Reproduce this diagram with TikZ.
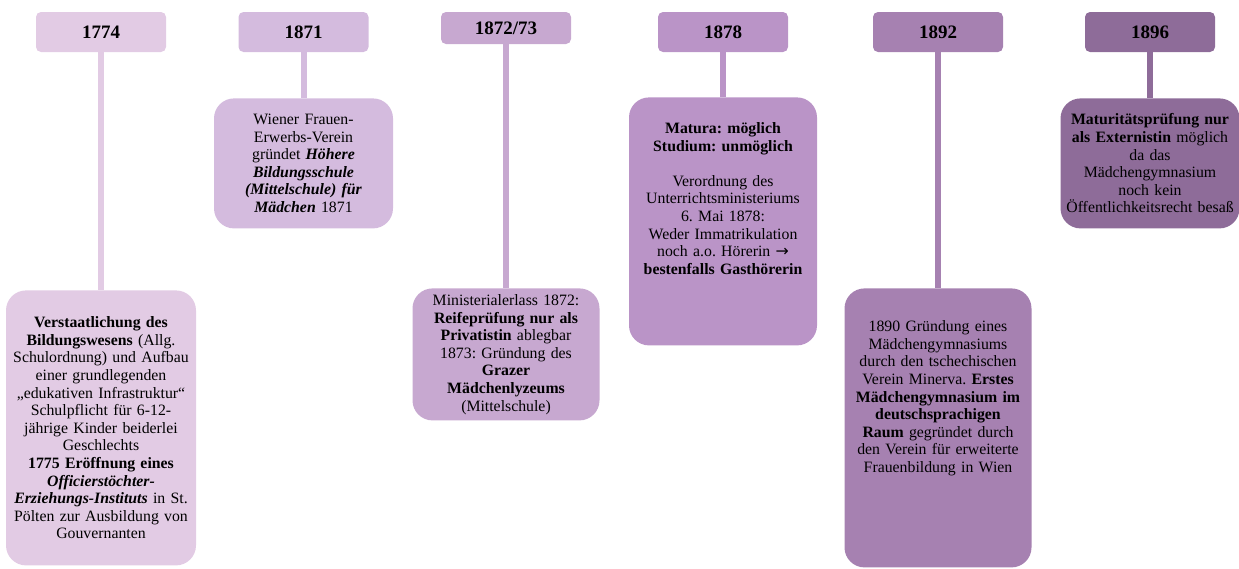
\documentclass[tikz,border=0pt]{standalone}
\usepackage{fontspec}
\setmainfont{Liberation Serif}
\newfontfamily\symfont{DejaVu Sans}
\usetikzlibrary{positioning}
\frenchspacing

\definecolor{lila1}{RGB}{226,203,228}
\definecolor{lila2}{RGB}{212,187,222}
\definecolor{lila3}{RGB}{199,168,208}
\definecolor{lila4}{RGB}{186,148,199}
\definecolor{lila5}{RGB}{166,129,177}
\definecolor{lila6}{RGB}{142,108,153}

\tikzset{
  yearbox/.style={rectangle, rounded corners=5pt, fill=#1, minimum width=130pt,
    minimum height=40pt, inner sep=0pt, font=\fontsize{19}{21}\selectfont\bfseries},
  infobox/.style={rectangle, rounded corners=20pt, fill=#1, align=center,
    inner xsep=2pt, font=\fontsize{15.8}{17.6}\selectfont\frenchspacing},
  stem/.style={draw=#1, line width=6pt}
}

\begin{document}
\begin{tikzpicture}[x=1pt, y=-1pt]
            \useasboundingbox (0,0) rectangle (1239,568);
            \node[yearbox=lila1] (y1774) at (101,32) {1774};
            \node[yearbox=lila2] (y1871) at (303.5,32) {1871};
            \node[yearbox=lila3, minimum height=32pt] (y1872) at (506,28) {1872/73};
            \node[yearbox=lila4] (y1878) at (723,32) {1878};
            \node[yearbox=lila5] (y1892) at (938,32) {1892};
            \node[yearbox=lila6] (y1896) at (1150,32) {1896};
            \node[infobox=lila1, text width=186pt, minimum height=275pt, below=238pt of y1774] (t1774)
                {\textbf{Verstaatlichung des}\\ \textbf{Bildungswesens} (Allg.\\ Schulordnung) und Aufbau\\
                 einer grundlegenden\\ „edukativen Infrastruktur“\\ Schulpflicht für 6-12-\\
                 jährige Kinder beiderlei\\ Geschlechts\\ \textbf{1775 Eröffnung eines}\\
                 \textbf{\textit{Officierstöchter-}}\\ \textbf{\textit{Erziehungs-Instituts}} in St.\\
                 Pölten zur Ausbildung von\\ Gouvernanten};
            \node[infobox=lila2, text width=175pt, minimum height=130pt, below=46pt of y1871] (t1871)
                {Wiener Frauen-\\ Erwerbs-Verein\\ gründet \textbf{\textit{Höhere}}\\
                 \textbf{\textit{Bildungsschule}}\\ \textbf{\textit{(Mittelschule) für}}\\
                 \textbf{\textit{Mädchen}} 1871};
            \node[infobox=lila3, text width=183pt, minimum height=132pt, below=244pt of y1872] (t1872)
                {Ministerialerlass 1872:\\ \textbf{Reifeprüfung nur als}\\ \textbf{Privatistin} ablegbar\\
                 1873: Gründung des\\ \textbf{Grazer}\\ \textbf{Mädchenlyzeums}\\ (Mittelschule)};
            \node[infobox=lila4, text width=184pt, minimum height=248pt, below=45pt of y1878] (t1878)
                {\textbf{Matura: möglich}\\ \textbf{Studium: unmöglich}\\[17.6pt] Verordnung des\\
                 Unterrichtsministeriums\\ 6. Mai 1878:\\ Weder Immatrikulation\\
                 noch a.o. Hörerin {\symfont →}\\ \textbf{bestenfalls Gasthörerin}\\ \rule{0pt}{45pt}};
            \node[infobox=lila5, text width=183pt, minimum height=279pt, below=236pt of y1892] (t1892)
                {1890 Gründung eines\\ Mädchengymnasiums\\ durch den tschechischen\\
                 Verein Minerva. \textbf{Erstes}\\ \textbf{Mädchengymnasium im}\\ \textbf{deutschsprachigen}\\
                 \textbf{Raum} gegründet durch\\ den Verein für erweiterte\\ Frauenbildung in Wien\\ \rule{0pt}{58pt}};
            \node[infobox=lila6, text width=175pt, minimum height=130pt, below=46pt of y1896] (t1896)
                {\textbf{Maturitätsprüfung nur}\\ \textbf{als Externistin} möglich\\ da das\\
                 Mädchengymnasium\\ noch kein\\ Öffentlichkeitsrecht besaß};
            \draw[stem=lila1] (y1774) -- (t1774);
            \draw[stem=lila2] (y1871) -- (t1871);
            \draw[stem=lila3] (y1872) -- (t1872);
            \draw[stem=lila4] (y1878) -- (t1878);
            \draw[stem=lila5] (y1892) -- (t1892);
            \draw[stem=lila6] (y1896) -- (t1896);
        \end{tikzpicture}
\end{document}
